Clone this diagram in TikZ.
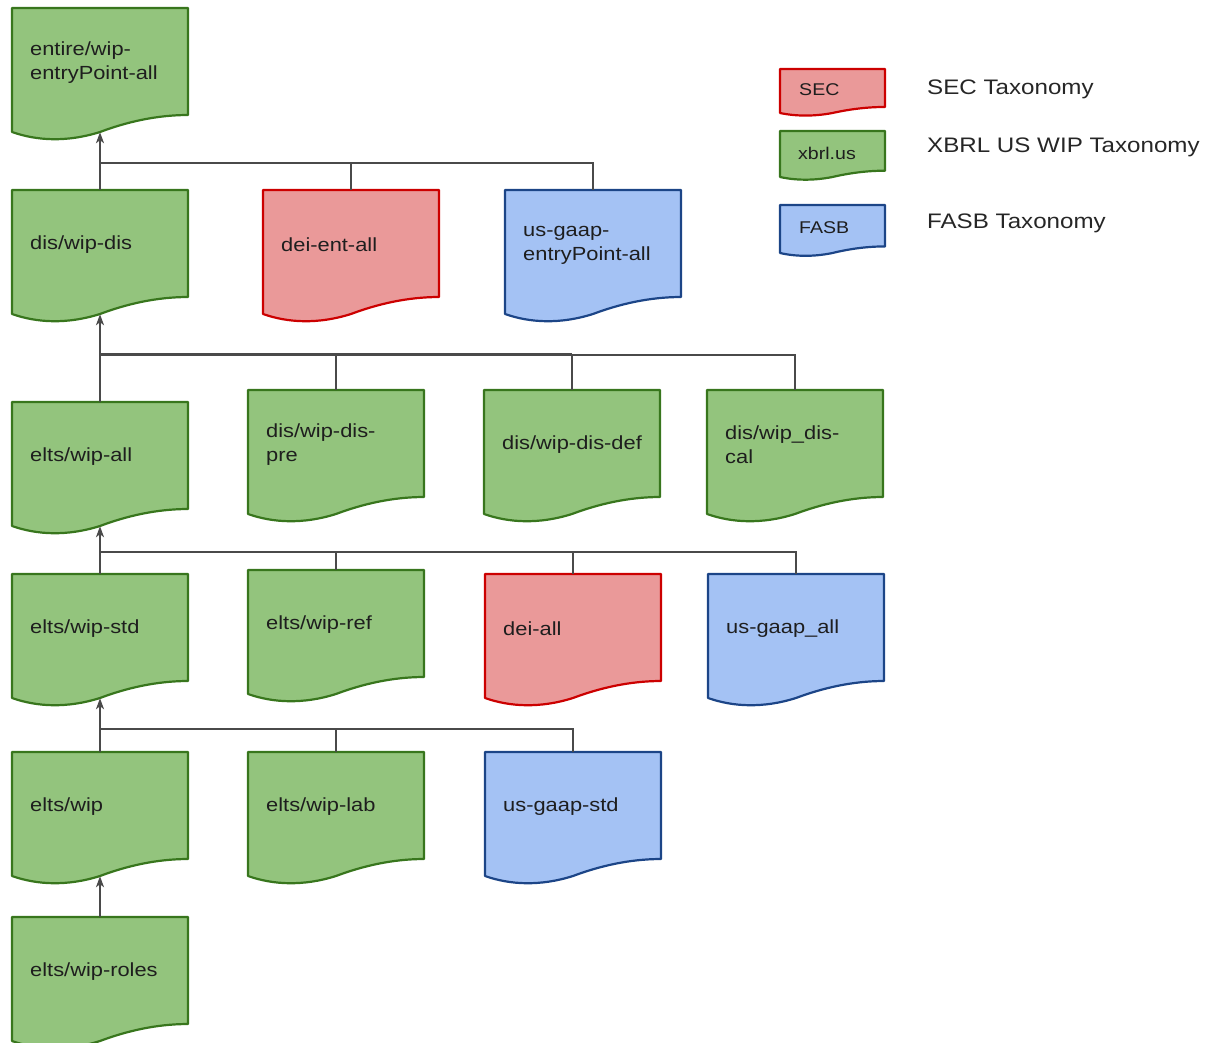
\documentclass[tikz,border=0pt]{standalone}
\usepackage{fontspec}
\setmainfont{Liberation Sans}[FakeStretch=1.15]
\usetikzlibrary{arrows.meta}
\definecolor{gfill}{HTML}{93C47D}
\definecolor{gdraw}{HTML}{38761D}
\definecolor{rfill}{HTML}{EA9999}
\definecolor{rdraw}{HTML}{CC0000}
\definecolor{bfill}{HTML}{A4C2F4}
\definecolor{bdraw}{HTML}{1C4587}
\definecolor{conncol}{HTML}{4A4A4A}
\definecolor{txtcol}{HTML}{1E1E1E}
\tikzset{
  greendoc/.style={fill=gfill,draw=gdraw,line width=2.2pt,line join=round},
  reddoc/.style={fill=rfill,draw=rdraw,line width=2.2pt,line join=round},
  bluedoc/.style={fill=bfill,draw=bdraw,line width=2.2pt,line join=round},
  conn/.style={draw=conncol,line width=1.6pt},
  arr/.style={conn,-{Stealth[length=11pt,width=8pt,inset=3pt]}},
  boxtxt/.style={anchor=west,align=left,inner sep=0pt,text=txtcol,
    font=\fontsize{19}{24}\selectfont},
  legtxt/.style={anchor=west,inner sep=0pt,text=txtcol,
    font=\fontsize{17}{20}\selectfont},
  leglabel/.style={anchor=west,inner sep=0pt,text=black!85,
    font=\fontsize{21}{25}\selectfont}
}
% style, L, T, W, H
\newcommand{\docshape}[5]{%
  \path[#1] (#2,#3) -- (#2,#3+#5)
    .. controls (#2+0.14*#4,#3+1.07*#5) and (#2+0.31*#4,#3+1.085*#5) .. (#2+0.5*#4,#3+#5)
    .. controls (#2+0.65*#4,#3+0.92*#5) and (#2+0.82*#4,#3+0.863*#5) .. (#2+#4,#3+0.863*#5)
    -- (#2+#4,#3) -- cycle;}
% name, style, L, T, text
\newcommand{\docbox}[5]{%
  \docshape{#2}{#3}{#4}{176}{124}
  \node[inner sep=0pt,minimum width=176pt,minimum height=124pt] (#1) at (#3+88,#4+62) {};
  \node[boxtxt] (#1-text) at (#3+18,#4+55) {#5};}
\begin{document}
\begin{tikzpicture}[x=1pt,y=-1pt]
\useasboundingbox (0,0) rectangle (1212,1043);
% row 1
\docbox{entire}{greendoc}{12}{8}{entire/wip-\\entryPoint-all}
% row 2
\docbox{diswipdis}{greendoc}{12}{190}{dis/wip-dis}
\docbox{deientall}{reddoc}{263}{190}{dei-ent-all}
\docbox{usgaapep}{bluedoc}{505}{190}{us-gaap-\\entryPoint-all}
% row 3
\docbox{eltswipall}{greendoc}{12}{402}{elts/wip-all}
\docbox{diswipdispre}{greendoc}{248}{390}{dis/wip-dis-\\pre}
\docbox{diswipdisdef}{greendoc}{484}{390}{dis/wip-dis-def}
\docbox{diswipdiscal}{greendoc}{707}{390}{dis/wip\_dis-\\cal}
% row 4
\docbox{eltswipstd}{greendoc}{12}{574}{elts/wip-std}
\docbox{eltswipref}{greendoc}{248}{570}{elts/wip-ref}
\docbox{deiall}{reddoc}{485}{574}{dei-all}
\docbox{usgaapall}{bluedoc}{708}{574}{us-gaap\_all}
% row 5
\docbox{eltswip}{greendoc}{12}{752}{elts/wip}
\docbox{eltswiplab}{greendoc}{248}{752}{elts/wip-lab}
\docbox{usgaapstd}{bluedoc}{485}{752}{us-gaap-std}
% row 6
\docbox{eltswiproles}{greendoc}{12}{917}{elts/wip-roles}
% bus points
\coordinate (b1) at (100,163);
\coordinate (b2) at (100,355);
\coordinate (b3) at (100,552);
\coordinate (b4) at (100,729);
% connectors
\draw[arr] (diswipdis.north) -- (entire.south);
\draw[conn] (deientall.north) |- (b1);
\draw[conn] (usgaapep.north) |- (b1);
\draw[arr] (eltswipall.north) -- (diswipdis.south);
\draw[conn] (diswipdispre.north) |- (b2);
\draw[conn] (diswipdisdef.north) |- (b2);
\draw[conn] (diswipdiscal.north) |- (b2);
\draw[conn] ([yshift=1.6pt]b2) -- ([yshift=1.6pt]diswipdisdef.north |- b2);
\draw[arr] (eltswipstd.north) -- (eltswipall.south);
\draw[conn] (eltswipref.north) |- (b3);
\draw[conn] (deiall.north) |- (b3);
\draw[conn] (usgaapall.north) |- (b3);
\draw[arr] (eltswip.north) -- (eltswipstd.south);
\draw[conn] (eltswiplab.north) |- (b4);
\draw[conn] (usgaapstd.north) |- (b4);
\draw[arr] (eltswiproles.north) -- (eltswip.south);
% legend
\docshape{reddoc}{780}{69}{105}{44}
\node[inner sep=0pt,minimum width=105pt,minimum height=44pt] (legsec) at (832.5,91) {};
\node[legtxt] (legsec-text) at (799,90) {SEC};
\docshape{greendoc}{780}{131}{105}{46}
\node[inner sep=0pt,minimum width=105pt,minimum height=46pt] (legxbrl) at (832.5,154) {};
\node[legtxt] (legxbrl-text) at (798,153) {xbrl.us};
\docshape{bluedoc}{780}{205}{105}{48}
\node[inner sep=0pt,minimum width=105pt,minimum height=48pt] (legfasb) at (832.5,229) {};
\node[legtxt] (legfasb-text) at (799,228) {FASB};
\node[leglabel] (lab1) at (927,89) {SEC Taxonomy};
\node[leglabel] (lab2) at (927,147) {XBRL US WIP Taxonomy};
\node[leglabel] (lab3) at (927,223) {FASB Taxonomy};
\end{tikzpicture}
\end{document}
